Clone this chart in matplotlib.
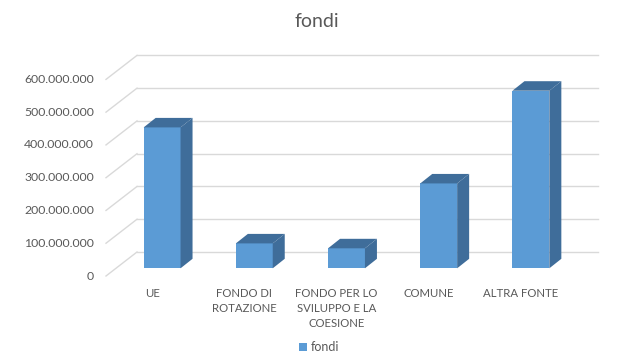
import matplotlib
matplotlib.use("Agg")
import matplotlib.pyplot as plt
from matplotlib.patches import Polygon, Patch

categories = ["UE", "FONDO DI\nROTAZIONE", "FONDO PER LO\nSVILUPPO E LA\nCOESIONE", "COMUNE", "ALTRA FONTE"]
values = [430e6, 76e6, 61e6, 259e6, 542e6]
yticks = [0, 100e6, 200e6, 300e6, 400e6, 500e6, 600e6]
ytick_labels = ["0", "100.000.000", "200.000.000", "300.000.000", "400.000.000", "500.000.000", "600.000.000"]
series_name = "fondi"
title = "fondi"

plt.rcParams["font.family"] = ["Lato", "DejaVu Sans"]

W, H = 622, 364
fig = plt.figure(figsize=(W / 100, H / 100), dpi=100)
ax_l, ax_b, ax_w, ax_h = 116 / W, 95.7 / H, 461 / W, 196.6 / H
ax = fig.add_axes([ax_l, ax_b, ax_w, ax_h])
xmin, xmax = -0.5, len(categories) - 0.5
ymin, ymax = 0, 600e6
ax.set_xlim(xmin, xmax)
ax.set_ylim(ymin, ymax)
ax.axis("off")

pxx = ax_w * W / (xmax - xmin)
pxy = ax_h * H / (ymax - ymin)


def d(xpx, ypx):
    return xpx / pxx, ypx / pxy


grid_c = "#D9D9D9"
text_c = "#595959"
face_c = "#5B9BD5"
dark_c = "#3F6D9A"

bx, by = d(21, 16.3)     # back wall offset
fx, fy = d(-10, -7.7)    # front plane offset

for t in yticks:
    ax.plot([xmin + bx, xmax + bx], [t + by, t + by], color=grid_c, lw=1,
            clip_on=False, zorder=0)
    ax.plot([xmin + fx, xmin + bx], [t + fy, t + by], color=grid_c, lw=1,
            clip_on=False, zorder=0)

for t, lab in zip(yticks, ytick_labels):
    px, _ = d(-12, 0)
    ax.text(xmin + fx + px, t + fy, lab, ha="right", va="center",
            fontsize=8.8, color=text_c, clip_on=False)

w = 0.4
ddx, ddy = d(12, 9.5)
xs = list(range(len(categories)))
ax.bar(xs, values, width=w, color=face_c, zorder=3, linewidth=0)
for x, v in zip(xs, values):
    top = [(x - w / 2, v), (x + w / 2, v), (x + w / 2 + ddx, v + ddy), (x - w / 2 + ddx, v + ddy)]
    side = [(x + w / 2, 0), (x + w / 2 + ddx, ddy), (x + w / 2 + ddx, v + ddy), (x + w / 2, v)]
    ax.add_patch(Polygon(top, closed=True, facecolor=dark_c, edgecolor="none", zorder=4, clip_on=False))
    ax.add_patch(Polygon(side, closed=True, facecolor=dark_c, edgecolor="none", zorder=4, clip_on=False))

_, lab_off = d(0, -12)
for x, c in zip(xs, categories):
    ax.text(x + fx, fy + lab_off, c, ha="center", va="top", fontsize=8.2,
            color=text_c, linespacing=1.42, clip_on=False)

fig.text(317 / W, 1 - 21.7 / H, title, ha="center", va="center", fontsize=14, color=text_c)

fig.legend(handles=[Patch(facecolor=face_c, edgecolor="none")], labels=[series_name],
           loc="center", bbox_to_anchor=(319 / W, 1 - 347 / H), frameon=False,
           handlelength=0.6, handleheight=0.6, handletextpad=0.3, fontsize=9,
           labelcolor=text_c, borderpad=0)

fig.savefig("out.png", dpi=100, facecolor="white")
